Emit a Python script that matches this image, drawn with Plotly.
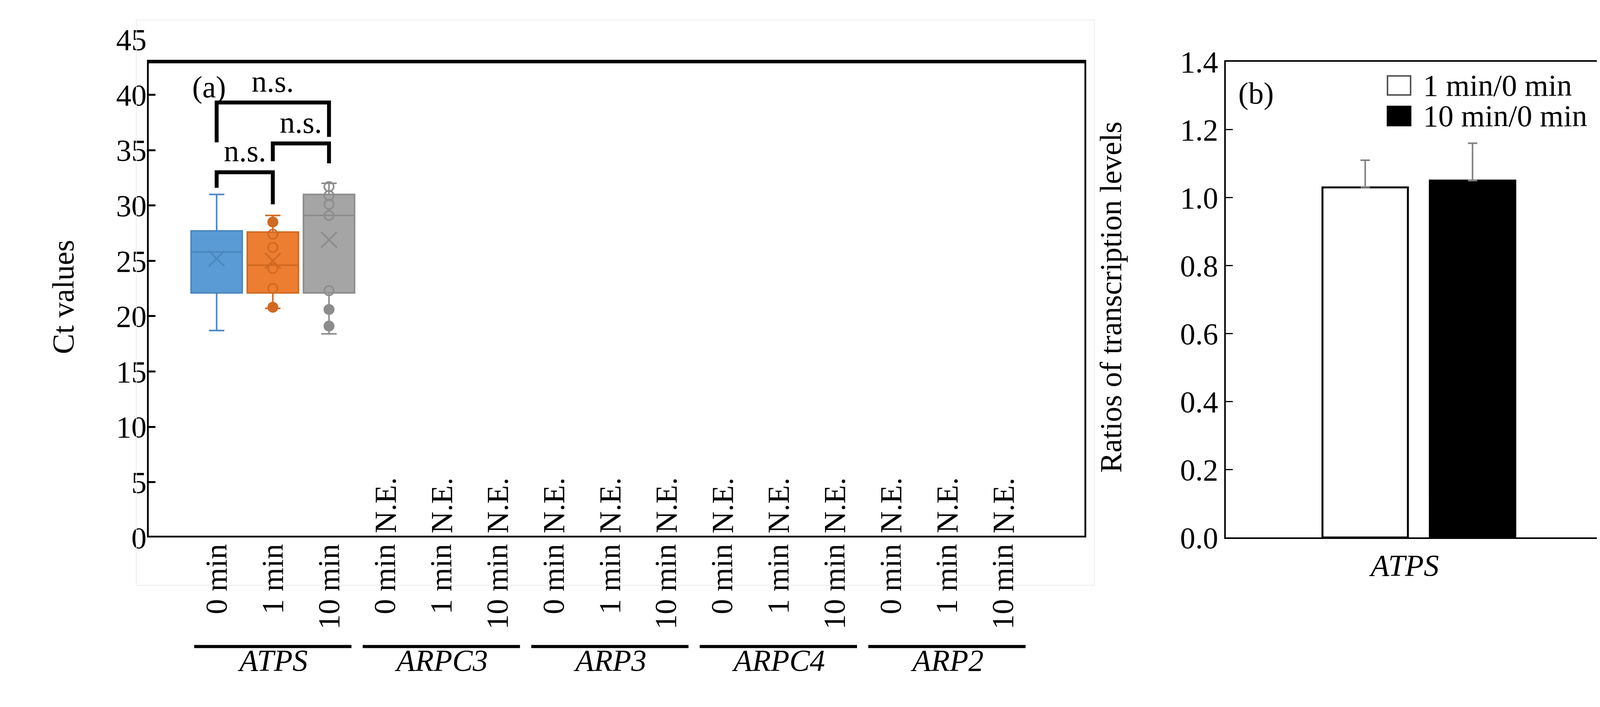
import plotly.graph_objects as go

# ---- data panel (a)
genes = ["ATPS", "ARPC3", "ARP3", "ARPC4", "ARP2"]
times = ["0 min", "1 min", "10 min"]
box_colors = ["#5B9BD5", "#ED7D31", "#A5A5A5"]
box_lines = ["#4A86C0", "#D06A22", "#8C8C8C"]
q1 = [22.1, 22.1, 22.1]
median = [25.8, 24.6, 29.1]
q3 = [27.7, 27.6, 31.0]
lowf = [18.7, 20.7, 18.4]
upf = [31.0, 29.1, 32.0]
means = [25.2, 25.0, 26.9]
pts_orange = [28.5, 27.4, 26.2, 24.3, 22.5, 20.8]
pts_gray = [31.7, 30.9, 30.1, 29.1, 22.3, 20.6, 19.1]
brackets = [  # x0, x1, y_left, y_right, y_top, label y
    (0, 1, 31.6, 30.1, 33.0, 33.3),
    (1, 2, 34.0, 33.8, 35.6, 35.9),
    (0, 2, 35.7, 36.2, 39.3, 39.6),
]
# ---- data panel (b)
ratio_names = ["1 min/0 min", "10 min/0 min"]
ratio_vals = [1.03, 1.05]
ratio_err = [0.08, 0.11]
ratio_colors = ["white", "black"]

FONT = "Liberation Serif"
FS = 78
fig = go.Figure()

for i in range(3):
    fig.add_trace(go.Box(x=[i], q1=[q1[i]], median=[median[i]], q3=[q3[i]],
                         lowerfence=[lowf[i]], upperfence=[upf[i]],
                         fillcolor=box_colors[i], line=dict(color=box_lines[i], width=4),
                         width=0.91, whiskerwidth=0.3, showlegend=False,
                         xaxis="x", yaxis="y"))
    fig.add_trace(go.Scatter(x=[i], y=[means[i]], mode="markers", showlegend=False,
                             marker=dict(symbol="x-thin-open", size=40, color=box_lines[i],
                                         line=dict(color=box_lines[i], width=4))))
for i, pts in [(1, pts_orange), (2, pts_gray)]:
    fig.add_trace(go.Scatter(x=[i] * len(pts), y=pts, mode="markers", showlegend=False,
                             marker=dict(symbol="circle-open", size=24, color=box_lines[i],
                                         line=dict(color=box_lines[i], width=4))))
    ends = [pts[0], pts[-1]] if i == 1 else [pts[-2], pts[-1]]
    fig.add_trace(go.Scatter(x=[i, i], y=ends, mode="markers", showlegend=False,
                             marker=dict(symbol="circle", size=24, color=box_lines[i])))

for x0, x1, yl, yr, yt, ly in brackets:
    fig.add_trace(go.Scatter(x=[x0, x0, x1, x1], y=[yl, yt, yt, yr], mode="lines",
                             line=dict(color="black", width=10), showlegend=False))
    fig.add_annotation(x=(x0 + x1) / 2, y=ly, text="n.s.", showarrow=False,
                       font=dict(family=FONT, size=FS, color="black"), yanchor="bottom")

xt_vals = list(range(15))
xt_text = [t for g in genes for t in times]
for k in range(3, 15):
    fig.add_annotation(x=k, y=0.3, text="N.E.", textangle=-90, showarrow=False,
                       yanchor="bottom", font=dict(family=FONT, size=FS, color="black"))

for gi, g in enumerate(genes):
    c = gi * 3 + 1
    fig.add_shape(type="line", xref="x", yref="paper", x0=c - 1.4, x1=c + 1.4,
                  y0=0.069, y1=0.069, line=dict(color="black", width=8))
    fig.add_annotation(x=c, y=0.022, xref="x", yref="paper", text="<i>%s</i>" % g,
                       showarrow=False, font=dict(family=FONT, size=FS, color="black"))

fig.add_shape(type="rect", xref="x", yref="y", x0=-1.24, x1=15.48, y0=0, y1=43,
              line=dict(color="black", width=9))
fig.add_shape(type="rect", xref="paper", yref="paper", x0=0.082, x1=0.672, y0=0.16, y1=1.0,
              line=dict(color="#ececec", width=2))
fig.add_annotation(x=-0.45, y=42.3, text="(a)", showarrow=False, xanchor="left", yanchor="top",
                   font=dict(family=FONT, size=FS, color="black"))
fig.add_annotation(x=0.026, y=0.588, xref="paper", yref="paper", text="Ct values",
                   textangle=-90, showarrow=False, font=dict(family=FONT, size=FS, color="black"))

# ---- panel (b)
bx = [0.362, 0.641]
for i in range(2):
    fig.add_trace(go.Bar(x=[bx[i]], y=[ratio_vals[i]], width=0.222, name=ratio_names[i],
                         showlegend=False,
                         marker=dict(color=ratio_colors[i], line=dict(color="black", width=5)),
                         error_y=dict(type="data", array=[ratio_err[i]], arrayminus=[0],
                                      symmetric=False, color="#808080", thickness=4, width=12),
                         xaxis="x2", yaxis="y2"))
# manual legend inside panel (b)
leg_y = [1.33, 1.24]
for i in range(2):
    fig.add_shape(type="rect", xref="x2", yref="y2", x0=0.42, x1=0.48,
                  y0=leg_y[i] - 0.028, y1=leg_y[i] + 0.028,
                  fillcolor=ratio_colors[i], line=dict(color="#555" if i == 0 else "black", width=4))
    fig.add_annotation(x=0.51, y=leg_y[i], xref="x2", yref="y2", text=ratio_names[i],
                       xanchor="left", showarrow=False, font=dict(family=FONT, size=FS, color="black"))
fig.add_annotation(x=0.03, y=1.36, xref="x2", yref="y2", text="(b)", showarrow=False,
                   xanchor="left", yanchor="top", font=dict(family=FONT, size=FS, color="black"))
fig.add_annotation(x=0.693, y=0.588, xref="paper", yref="paper", text="Ratios of transcription levels",
                   textangle=-90, showarrow=False, font=dict(family=FONT, size=FS, color="black"))

fig.update_layout(
    width=4157, height=1809, margin=dict(l=0, r=0, t=0, b=0),
    paper_bgcolor="white", plot_bgcolor="white", showlegend=False,
    font=dict(family=FONT, size=FS, color="black"),
    xaxis=dict(domain=[0.0886, 0.667], range=[-1.24, 15.48], tickvals=xt_vals, ticktext=xt_text,
               tickangle=-90, showgrid=False, zeroline=False, showline=False, ticks=""),
    yaxis=dict(range=[0, 45], dtick=5, domain=[0.231, 0.971], showgrid=False, zeroline=False,
               ticks="inside", ticklen=22, tickwidth=5, tickcolor="black", showline=False),
    xaxis2=dict(domain=[0.753, 0.990], range=[0, 1], anchor="y2", tickvals=[0.465],
                ticktext=["<i>ATPS</i>"], showgrid=False, zeroline=False, showline=True,
                linecolor="black", linewidth=4, mirror=True, ticks=""),
    yaxis2=dict(domain=[0.231, 0.938], range=[0, 1.4], dtick=0.2, tickformat=".1f", anchor="x2",
                showgrid=False, zeroline=False, showline=True, linecolor="black", linewidth=4,
                mirror=True, ticks="inside", ticklen=18, tickwidth=3, tickcolor="black"),
    barmode="overlay",
)
fig.write_html("out.html")
